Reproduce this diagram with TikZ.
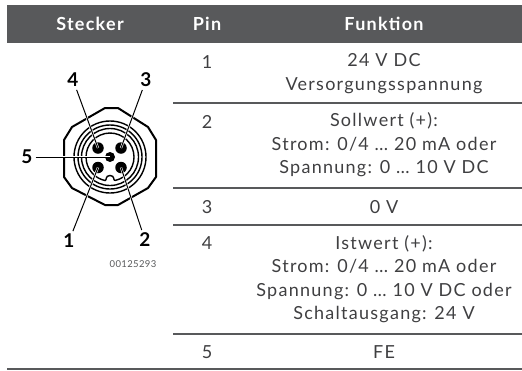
\documentclass[tikz,border=0pt]{standalone}
\usepackage{fontspec}
\setmainfont{Lato}
\newfontfamily\bodyf[LetterSpace=7]{Lato}
\newfontfamily\headf[LetterSpace=7]{Lato}
\newfontfamily\codef[LetterSpace=4]{Lato}
\definecolor{hd}{HTML}{58595B}
\definecolor{tx}{HTML}{3F3F41}
\tikzset{
 x=1pt,y=-1pt,
 hdr/.style={font=\headf\fontsize{18}{20}\selectfont\bfseries,text=white,anchor=center,inner sep=0pt},
 cell/.style={font=\bodyf\fontsize{18}{23.5}\selectfont,text=tx,align=center,anchor=center,inner sep=0pt},
 rule/.style={draw=hd,line width=2pt},
 num/.style={font=\fontsize{19}{20}\selectfont\bfseries,text=black,inner sep=0pt,outer sep=3pt},
 lead/.style={draw=black,line width=1pt},
 halo/.style={draw=white,line width=2.2pt},
 ring/.style={draw=black,line width=1.4pt},
 pin/.style={circle,fill=black,draw=none,minimum size=11.5pt,inner sep=0pt}
}
\begin{document}
\begin{tikzpicture}
\useasboundingbox (0,0) rectangle (522,370);
\fill[hd] (7,5) rectangle (522,43);
\node[hdr] (h1) at (90,24) {Stecker};
\node[hdr] (h2) at (207,24) {Pin};
\node[hdr] (h3) at (384,24) {Funktion};
\node[cell] (p1) at (207,62) {1};
\node[cell] (f1) at (384,73.5) {24 V DC\\Versorgungsspannung};
\draw[rule] (173,103) -- (522,103);
\node[cell] (p2) at (207,122) {2};
\node[cell] (f2) at (384,145) {Sollwert (+):\\Strom: 0/4 … 20 mA oder\\Spannung: 0 … 10 V DC};
\draw[rule] (173,188) -- (522,188);
\node[cell] (p3) at (207,207) {3};
\node[cell] (f3) at (384,207) {0 V};
\draw[rule] (173,225) -- (522,225);
\node[cell] (p4) at (207,243) {4};
\node[cell] (f4) at (384,279) {Istwert (+):\\Strom: 0/4 … 20 mA oder\\Spannung: 0 … 10 V DC oder\\Schaltausgang: 24 V};
\draw[rule] (173,334) -- (522,334);
\node[cell] (p5) at (207,352) {5};
\node[cell] (f5) at (384,352) {FE};
\draw[draw=hd,line width=1.4pt] (7,369) -- (522,369);
% connector
\draw[line width=2pt,line join=round] (105,108)--(118,108)--(148,127)--(156,140)--(156,177)--(148,188)--(118,205)--(105,205)--(72,188)--(64,177)--(64,140)--(72,127)--cycle;
\draw[ring] (110,157) circle (36);
\draw[ring] (110,157) circle (32);
\draw[ring] (110,157) circle (28.5);
\draw[ring] (115,180.5) arc (78:-258:24)
  .. controls (107,180.5) and (105,175.5) .. (110,175.5)
  .. controls (115,175.5) and (113,180.5) .. (115,180.5);
\node[pin] (pin4) at (98,148) {};
\node[pin] (pin3) at (121,148) {};
\node[pin] (pin1) at (98,167.5) {};
\node[pin] (pin2) at (121,167.5) {};
\node[pin,minimum size=10pt] (pin5) at (110,157) {};
\node[num] (n4) at (73,80) {4};
\node[num] (n3) at (146,80) {3};
\node[num] (n5) at (27,157) {5};
\node[num] (n1) at (69,241) {1};
\node[num] (n2) at (145,240) {2};
\node[font=\codef\fontsize{9.5}{11}\selectfont,text=hd,inner sep=0pt] (code) at (133,264) {00125293};
\draw[halo] (n4) -- (pin4.center);
\draw[halo] (n3) -- (pin3.center);
\draw[halo] (n5) -- (pin5.center);
\draw[halo] (n1) -- (pin1.center);
\draw[halo] (n2) -- (pin2.center);
\draw[lead] (n4) -- (pin4.center);
\draw[lead] (n3) -- (pin3.center);
\draw[lead] (n5) -- (pin5.center);
\draw[lead] (n1) -- (pin1.center);
\draw[lead] (n2) -- (pin2.center);
\end{tikzpicture}
\end{document}
